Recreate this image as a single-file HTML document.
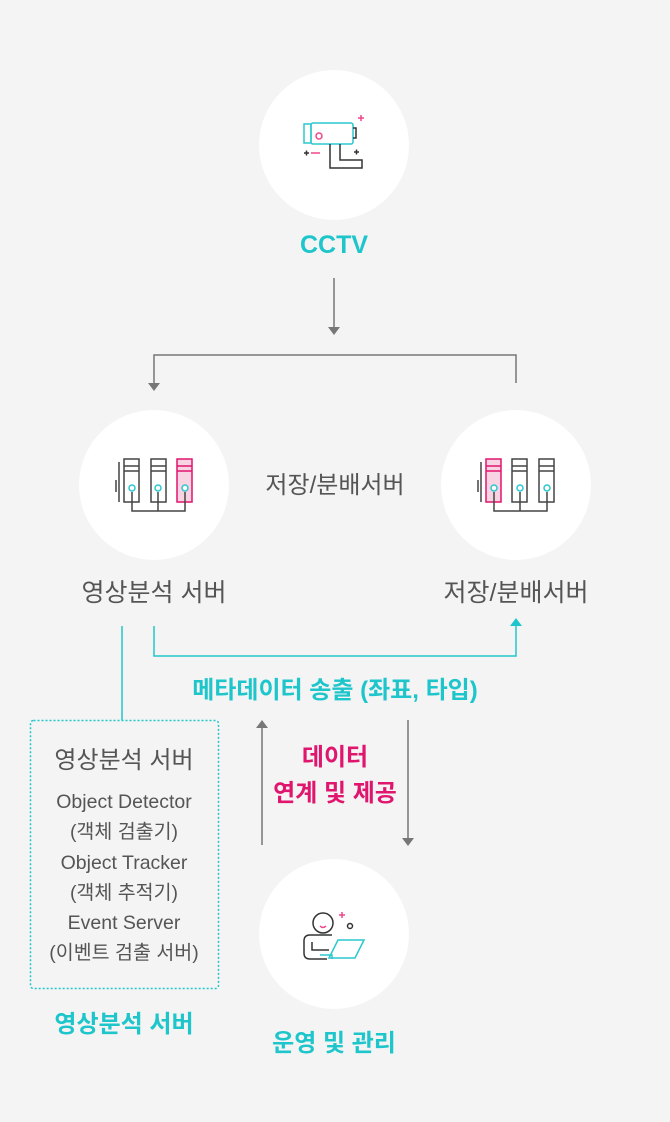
<!DOCTYPE html>
<html><head><meta charset="utf-8"><style>
body{margin:0;background:#f4f4f4;width:670px;height:1122px;overflow:hidden;font-family:"Liberation Sans","Noto Sans CJK KR",sans-serif;}
svg{position:absolute;left:0;top:0}
.t{position:absolute;white-space:nowrap;text-align:center}
</style></head><body>
<svg width="670" height="1122" viewBox="0 0 670 1122">
<circle cx="334" cy="145" r="75" fill="#fff"/>
<circle cx="154" cy="485" r="75" fill="#fff"/>
<circle cx="516" cy="485" r="75" fill="#fff"/>
<circle cx="334" cy="934" r="75" fill="#fff"/>
<g fill="none" stroke-width="1.5">
<rect x="304" y="124" width="7" height="19" stroke="#2cc7cf"/>
<rect x="311" y="123" width="42" height="21" rx="2" stroke="#2cc7cf"/>
<circle cx="319" cy="136" r="3" stroke="#f0468b"/>
<path d="M353 128h3v10h-3" stroke="#333"/>
<path d="M330 144v24h32v-8h-22v-16" stroke="#333"/>
<path d="M358 118h6M361 115v6" stroke="#f0468b"/>
<path d="M304 153h5M306.5 150.5v5M354 152h5M356.5 149.5v5" stroke="#333"/>
<path d="M311 153h9" stroke="#f0468b"/>
</g>
<g fill="none" stroke-width="1.5">
<rect x="124" y="459" width="15" height="43" stroke="#444"/>
<path d="M124 466h15M124 471h15" stroke="#444"/>
<rect x="151" y="459" width="15" height="43" stroke="#444"/>
<path d="M151 466h15M151 471h15" stroke="#444"/>
<rect x="177" y="459" width="15" height="43" stroke="#e0156e" fill="#f8d3e2"/>
<path d="M177 466h15M177 471h15" stroke="#e0156e"/>
<path d="M119 462v40M116 480v12" stroke="#444"/>
<path d="M132 492v19h53v-19M158 492v19" stroke="#444"/>
<circle cx="132" cy="488" r="3" stroke="#2cc7cf" fill="#fff"/>
<circle cx="158" cy="488" r="3" stroke="#2cc7cf" fill="#fff"/>
<circle cx="185" cy="488" r="3" stroke="#2cc7cf" fill="#fff"/>
</g>
<g fill="none" stroke-width="1.5">
<rect x="486" y="459" width="15" height="43" stroke="#e0156e" fill="#f8d3e2"/>
<path d="M486 466h15M486 471h15" stroke="#e0156e"/>
<rect x="512" y="459" width="15" height="43" stroke="#444"/>
<path d="M512 466h15M512 471h15" stroke="#444"/>
<rect x="539" y="459" width="15" height="43" stroke="#444"/>
<path d="M539 466h15M539 471h15" stroke="#444"/>
<path d="M481 462v40M478 480v12" stroke="#444"/>
<path d="M494 492v19h53v-19M520 492v19" stroke="#444"/>
<circle cx="494" cy="488" r="3" stroke="#2cc7cf" fill="#fff"/>
<circle cx="520" cy="488" r="3" stroke="#2cc7cf" fill="#fff"/>
<circle cx="547" cy="488" r="3" stroke="#2cc7cf" fill="#fff"/>
</g>
<g fill="none" stroke-width="1.5">
<circle cx="323" cy="923" r="10" stroke="#333"/>
<path d="M320 926q3 3 6 0" stroke="#f0468b"/>
<path d="M332 935h-22q-6 0-6 6v12q0 6 6 6h17M312 942v8h17" stroke="#333"/>
<path d="M338 940h26l-9 18h-26zM320 955h12v4" stroke="#2cc7cf"/>
<path d="M339 915h6M342 912v6" stroke="#f0468b"/>
<circle cx="350" cy="926" r="2.5" stroke="#333"/>
</g>
<g fill="none" stroke="#777" stroke-width="1.5">
<path d="M334 278v50"/>
<path d="M154 385v-30h362v28"/>
<path d="M262 845v-118"/>
<path d="M408 720v118"/>
</g>
<g fill="#777">
<path d="M328 327h12l-6 8z"/>
<path d="M148 383h12l-6 8z"/>
<path d="M256 728h12l-6-8z"/>
<path d="M402 838h12l-6 8z"/>
</g>
<g fill="none" stroke="#1ec6cc" stroke-width="1.5">
<path d="M154 626v30h362v-30"/>
<path d="M122 626v94"/>
<rect x="30.5" y="720.5" width="188" height="268" rx="3" stroke-dasharray="2 2"/>
</g>
<path d="M510 626h12l-6-8z" fill="#1ec6cc"/>
</svg>
<div class="t" style="left:284px;top:231px;width:100px;font-size:25px;font-weight:bold;color:#1ec6cc">CCTV</div>
<div class="t" style="left:235px;top:465px;width:200px;font-size:24px;color:#555">저장/분배서버</div>
<div class="t" style="left:54px;top:573px;width:200px;font-size:25px;color:#555">영상분석 서버</div>
<div class="t" style="left:416px;top:573px;width:200px;font-size:25px;color:#555">저장/분배서버</div>
<div class="t" style="left:135px;top:670px;width:400px;font-size:24px;font-weight:bold;color:#1ec6cc">메타데이터 송출 (좌표, 타입)</div>
<div class="t" style="left:235px;top:740px;width:200px;font-size:24px;font-weight:bold;color:#e0156e;line-height:36px">데이터<br>연계 및 제공</div>
<div class="t" style="left:24px;top:740px;width:200px;font-size:24px;color:#555">영상분석 서버</div>
<div class="t" style="left:24px;top:787px;width:200px;font-size:19.5px;color:#555;line-height:30.3px">Object Detector<br>(객체 검출기)<br>Object Tracker<br>(객체 추적기)<br>Event Server<br>(이벤트 검출 서버)</div>
<div class="t" style="left:24px;top:1004px;width:200px;font-size:24px;font-weight:bold;color:#1ec6cc">영상분석 서버</div>
<div class="t" style="left:234px;top:1023px;width:200px;font-size:24px;font-weight:bold;color:#1ec6cc">운영 및 관리</div>
</body></html>
